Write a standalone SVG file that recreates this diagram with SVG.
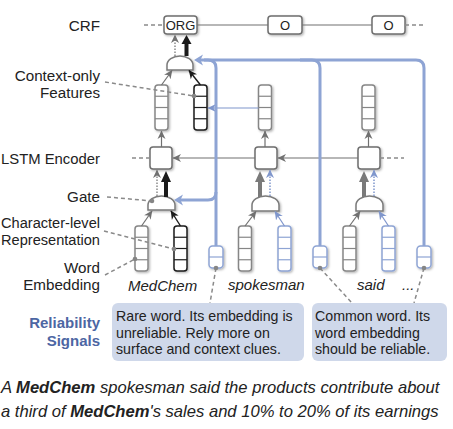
<svg xmlns="http://www.w3.org/2000/svg" width="453" height="429" viewBox="0 0 453 429">
<defs>
<style>
text{font-family:"Liberation Sans",Arial,sans-serif;fill:#222}
.lbl{font-size:15.2px;text-anchor:end}
.word{font-size:15px;font-style:italic}
.bx{font-size:14.2px}
.cap{font-size:16.6px;font-style:italic}
.crf{font-size:13px;text-anchor:middle}
.gray{stroke:#868686}
.blk{stroke:#1a1a1a}
.blu{stroke:#8ea4d4}
.node{fill:#fff;stroke:#6e6e6e;stroke-width:1.5}
.gate{fill:#fff;stroke:#7a7a7a;stroke-width:1.5}
.lead{stroke:#8a8a8a;stroke-width:1.5;stroke-dasharray:4 3;fill:none}
.thin{stroke:#707070;stroke-width:1.2;fill:none}
.thinb{stroke:#7f96cc;stroke-width:1.2;fill:none}
.thinblk{stroke:#1a1a1a;stroke-width:1.4;fill:none}
.dotg{stroke:#8a8a8a;stroke-width:1.5;stroke-dasharray:1.5 1.5;fill:none}
.dotb{stroke:#7f96cc;stroke-width:1.5;stroke-dasharray:1.5 1.5;fill:none}
.bl{stroke:#8ea4d4;stroke-width:3;fill:none}
.dash{stroke:#8a8a8a;stroke-width:1.3;stroke-dasharray:4 3;fill:none}
.note{fill:#cfd8ea}
</style>
<filter id="sh" x="-30%" y="-30%" width="170%" height="170%">
<feDropShadow dx="1.2" dy="1.2" stdDeviation="0.8" flood-color="#000" flood-opacity="0.3"/>
</filter>
<marker id="ag" markerUnits="userSpaceOnUse" markerWidth="9" markerHeight="9" refX="8" refY="4.5" orient="auto"><path d="M0,0.5 L8.5,4.5 L0,8.5 L2.5,4.5Z" fill="#707070"/></marker>
<marker id="ak" markerUnits="userSpaceOnUse" markerWidth="9" markerHeight="9" refX="8" refY="4.5" orient="auto"><path d="M0,0.5 L8.5,4.5 L0,8.5 L2.5,4.5Z" fill="#1a1a1a"/></marker>
<marker id="ab" markerUnits="userSpaceOnUse" markerWidth="9" markerHeight="9" refX="8" refY="4.5" orient="auto"><path d="M0,0.5 L8.5,4.5 L0,8.5 L2.5,4.5Z" fill="#7f96cc"/></marker>
<marker id="abb" markerUnits="userSpaceOnUse" markerWidth="12" markerHeight="12" refX="3" refY="6" orient="auto"><path d="M0,0.5 L9,6 L0,11.5 L2.5,6Z" fill="#8ea4d4"/></marker>
<g id="v4"><rect x="0" y="0" width="13" height="45" rx="3" fill="#fff" stroke-width="1.5"/><g stroke-width="1.2"><line x1="0" y1="11.25" x2="13" y2="11.25"/><line x1="0" y1="22.5" x2="13" y2="22.5"/><line x1="0" y1="33.75" x2="13" y2="33.75"/></g></g>
<g id="v2"><rect x="0" y="0" width="14" height="22" rx="3.5" fill="#fff" stroke-width="1.5"/><line x1="0" y1="11" x2="14" y2="11" stroke-width="1.2"/></g>
</defs>

<!-- labels -->
<g id="labels">
<text class="lbl" x="100" y="30.5">CRF</text>
<text class="lbl" x="100" y="81">Context-only</text>
<text class="lbl" x="100" y="97.5">Features</text>
<text class="lbl" x="100" y="164" textLength="99" lengthAdjust="spacingAndGlyphs">LSTM Encoder</text>
<text class="lbl" x="100" y="202">Gate</text>
<text class="lbl" x="100" y="228" textLength="99" lengthAdjust="spacingAndGlyphs">Character-level</text>
<text class="lbl" x="100" y="245" textLength="99" lengthAdjust="spacingAndGlyphs">Representation</text>
<text class="lbl" x="100" y="273">Word</text>
<text class="lbl" x="100" y="290">Embedding</text>
<text x="100" y="328" style="font-size:15px;font-weight:bold;text-anchor:end;fill:#4d66a3">Reliability</text>
<text x="100" y="346" style="font-size:15px;font-weight:bold;text-anchor:end;fill:#4d66a3">Signals</text>
</g>

<!-- CRF nodes -->
<g id="crf-org"><rect class="node" x="164" y="16" width="33" height="18" rx="3" filter="url(#sh)"/><text class="crf" x="180.5" y="30">ORG</text></g>
<g id="crf-o1"><rect class="node" x="268" y="16" width="34" height="18" rx="3" filter="url(#sh)"/><text class="crf" x="285" y="30">O</text></g>
<g id="crf-o2"><rect class="node" x="372" y="16" width="33" height="18" rx="3" filter="url(#sh)"/><text class="crf" x="388.5" y="30">O</text></g>

<!-- upper gate -->
<g id="gate-top"><path class="gate" d="M167,70 V65 A13,9 0 0 1 193,65 V70 Z" filter="url(#sh)"/></g>

<!-- context features -->
<g id="ctx1" class="gray" filter="url(#sh)"><use href="#v4" x="155" y="85"/></g>
<g id="ctx1g" class="blk" filter="url(#sh)"><use href="#v4" x="194" y="85"/></g>
<g id="ctx2" class="gray" filter="url(#sh)"><use href="#v4" x="258.5" y="85"/></g>
<g id="ctx3" class="gray" filter="url(#sh)"><use href="#v4" x="362" y="85"/></g>

<!-- LSTM nodes -->
<g id="lstm1"><rect class="node" x="150" y="147" width="22" height="22" rx="3" filter="url(#sh)"/></g>
<g id="lstm2"><rect class="node" x="255" y="147" width="22" height="22" rx="3" filter="url(#sh)"/></g>
<g id="lstm3"><rect class="node" x="358" y="147" width="22" height="22" rx="3" filter="url(#sh)"/></g>

<!-- lower gates -->
<g id="gate1"><path class="gate" d="M148,210 V205 A13.5,9 0 0 1 175,205 V210 Z" filter="url(#sh)"/></g>
<g id="gate2"><path class="gate" d="M252,211 V205 A13.5,9 0 0 1 279,205 V211 Z" filter="url(#sh)"/></g>
<g id="gate3"><path class="gate" d="M356,211 V205 A13.5,9 0 0 1 383,205 V211 Z" filter="url(#sh)"/></g>

<!-- word / char vectors -->
<g id="we1" class="gray" filter="url(#sh)"><use href="#v4" x="135" y="226"/></g>
<g id="ch1" class="blk" filter="url(#sh)"><use href="#v4" x="174" y="226"/></g>
<g id="we2" class="gray" filter="url(#sh)"><use href="#v4" x="238.5" y="226"/></g>
<g id="ch2" class="blu" filter="url(#sh)"><use href="#v4" x="278" y="226"/></g>
<g id="we3" class="gray" filter="url(#sh)"><use href="#v4" x="343" y="226"/></g>
<g id="ch3" class="blu" filter="url(#sh)"><use href="#v4" x="382" y="226"/></g>

<!-- reliability signal vectors -->
<g id="rs1" class="blu" filter="url(#sh)"><use href="#v2" x="209" y="246"/></g>
<g id="rs2" class="blu" filter="url(#sh)"><use href="#v2" x="313" y="246"/></g>
<g id="rs3" class="blu" filter="url(#sh)"><use href="#v2" x="417" y="246"/></g>

<!-- connectors -->
<g id="connectors">
<!-- CRF chain -->
<line class="dash" x1="144" y1="25" x2="164" y2="25"/>
<line class="thin" x1="197" y1="25" x2="268" y2="25"/>
<line class="thin" x1="302" y1="25" x2="372" y2="25"/>
<line class="dash" x1="405" y1="25" x2="426" y2="25"/>
<!-- LSTM chain -->
<line class="dash" x1="132" y1="158" x2="150" y2="158"/>
<line class="thin" x1="255" y1="158" x2="173" y2="158" marker-end="url(#ag)"/>
<line class="thin" x1="358" y1="158" x2="278" y2="158" marker-end="url(#ag)"/>
<line class="dash" x1="380" y1="158" x2="404" y2="158"/>
<!-- LSTM to context features -->
<line class="thin" x1="161.5" y1="147" x2="161.5" y2="131" marker-end="url(#ag)"/>
<line class="thin" x1="265" y1="147" x2="265" y2="131" marker-end="url(#ag)"/>
<line class="thin" x1="368.5" y1="147" x2="368.5" y2="131" marker-end="url(#ag)"/>
<!-- upper gate inputs -->
<line class="thin" x1="161.5" y1="85" x2="172" y2="70.5" marker-end="url(#ag)"/>
<line class="thinblk" x1="200.5" y1="85" x2="189" y2="70.5" marker-end="url(#ak)"/>
<!-- upper gate outputs -->
<line class="dotg" x1="175" y1="56" x2="175" y2="35" marker-end="url(#ag)"/>
<rect x="184.5" y="43" width="4" height="13" fill="#1a1a1a"/>
<polygon points="181.5,44 191.5,44 186.5,35" fill="#1a1a1a"/>
<!-- lower gate inputs -->
<line class="thin" x1="141.5" y1="226" x2="152" y2="211" marker-end="url(#ag)"/>
<line class="thinblk" x1="180.5" y1="226" x2="171" y2="211" marker-end="url(#ak)"/>
<line class="thin" x1="245" y1="226" x2="256" y2="211.5" marker-end="url(#ag)"/>
<line class="thinb" x1="284.5" y1="226" x2="275" y2="211.5" marker-end="url(#ab)"/>
<line class="thin" x1="349.5" y1="226" x2="360" y2="211.5" marker-end="url(#ag)"/>
<line class="thinb" x1="388.5" y1="226" x2="379" y2="211.5" marker-end="url(#ab)"/>
<!-- lower gate outputs -->
<line class="dotg" x1="157" y1="196" x2="157" y2="170" marker-end="url(#ag)"/>
<rect x="164" y="181" width="4" height="16" fill="#1a1a1a"/>
<polygon points="161,182 171,182 166,171" fill="#1a1a1a"/>
<rect x="258" y="181" width="4" height="16" fill="#7a7a7a"/>
<polygon points="255,182 265,182 260,171" fill="#7a7a7a"/>
<line class="dotb" x1="270" y1="196" x2="270" y2="170" marker-end="url(#ab)"/>
<rect x="362" y="181" width="4" height="16" fill="#7a7a7a"/>
<polygon points="359,182 369,182 364,171" fill="#7a7a7a"/>
<line class="dotb" x1="374" y1="196" x2="374" y2="170" marker-end="url(#ab)"/>
<!-- thin blue context link -->
<line class="thinb" x1="258.5" y1="108" x2="208" y2="108" marker-end="url(#ab)"/>
<!-- reliability signal lines -->
<path class="bl" d="M424,246 V68 Q424,60 416,60 H200" marker-end="url(#abb)"/>
<path class="bl" d="M320,246 V68 Q320,60 312,60 H300"/>
<path class="bl" d="M216,246 V68 Q216,60 208,60 H204"/>
<path class="bl" d="M216,192 Q216,200 208,200 H180" marker-end="url(#abb)"/>
<!-- leaders -->
<line class="lead" x1="105" y1="82" x2="194" y2="96"/>
<line class="lead" x1="107" y1="197" x2="152" y2="201"/>
<line class="lead" x1="104" y1="231" x2="174" y2="249"/>
<line class="lead" x1="105" y1="275" x2="135" y2="259"/>
<line class="lead" x1="216" y1="268" x2="210" y2="303"/>
<line class="lead" x1="320" y1="268" x2="352" y2="303"/>
<line class="lead" x1="424" y1="268" x2="414" y2="303"/>
<g fill="#858585">
<circle cx="194" cy="96" r="2.3"/>
<circle cx="152" cy="201" r="2.3"/>
<circle cx="174" cy="249" r="2.3"/>
<circle cx="135" cy="259" r="2.3"/>
<circle cx="216" cy="268" r="2.3"/>
<circle cx="320" cy="268" r="2.3"/>
<circle cx="424" cy="268" r="2.3"/>
</g>
</g>

<!-- words -->
<g id="words">
<text class="word" x="128" y="291">MedChem</text>
<text class="word" x="228" y="290">spokesman</text>
<text class="word" x="357" y="290">said</text>
<text class="word" x="402" y="290">...</text>
</g>

<!-- notes -->
<g id="note1">
<rect class="note" x="112" y="303" width="192" height="58" rx="6"/>
<text class="bx" x="116" y="321">Rare word. Its embedding is</text>
<text class="bx" x="116" y="337.5">unreliable. Rely more on</text>
<text class="bx" x="116" y="354">surface and context clues.</text>
</g>
<g id="note2">
<rect class="note" x="312" y="303" width="135" height="58" rx="6"/>
<text class="bx" x="315" y="321">Common word. Its</text>
<text class="bx" x="315" y="337.5">word embedding</text>
<text class="bx" x="315" y="354">should be reliable.</text>
</g>

<!-- caption -->
<g id="caption">
<text class="cap" x="1" y="393">A <tspan font-weight="bold">MedChem</tspan> spokesman said the products contribute about</text>
<text class="cap" x="1" y="417">a third of <tspan font-weight="bold">MedChem</tspan>'s sales and 10% to 20% of its earnings</text>
</g>
</svg>
